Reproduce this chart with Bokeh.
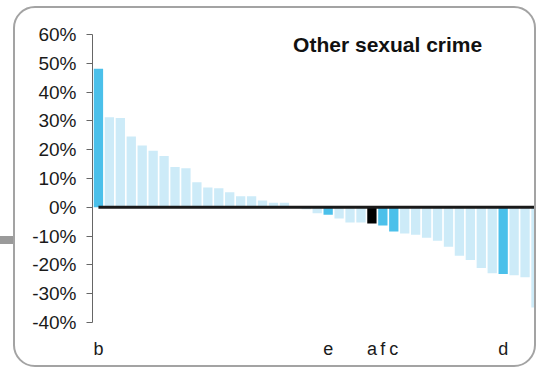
from bokeh.plotting import figure
from bokeh.models import ColumnDataSource, FixedTicker, NumeralTickFormatter, Label, InlineStyleSheet
from bokeh.embed import file_html
from bokeh.resources import INLINE

# ---- data (percent change per area, sorted) ----
values = [48.1, 31.3, 31.0, 24.6, 21.5, 19.6, 17.8, 14.0, 13.6, 8.7,
          6.9, 6.6, 5.2, 3.8, 3.8, 2.4, 1.6, 1.6, 0.2, -0.7,
          -2.1, -2.6, -3.9, -5.3, -5.3, -5.6, -6.3, -8.4, -9.1, -9.5,
          -10.6, -11.6, -13.7, -16.8, -18.3, -21.1, -22.9, -23.2, -23.6, -24.3,
          -34.8]
label_positions = [0, 21, 25, 26, 27, 37]
label_names = ["b", "e", "a", "f", "c", "d"]
label_colors = ["#4BC0EA", "#4BC0EA", "#000000", "#4BC0EA", "#4BC0EA", "#4BC0EA"]
y_ticks = [-0.4, -0.3, -0.2, -0.1, 0.0, 0.1, 0.2, 0.3, 0.4, 0.5, 0.6]
title_text = "Other sexual crime"

LIGHT = "#CDEBF8"
FONT = "Liberation Sans"

colors = [LIGHT] * len(values)
for i, c in zip(label_positions, label_colors):
    colors[i] = c

src = ColumnDataSource(dict(
    x=list(range(len(values))),
    top=[v / 100 for v in values],
    color=colors,
))

p = figure(width=519, height=357,
           x_range=(-0.544, 40.23), y_range=(-0.4, 0.6),
           output_backend="svg", toolbar_location=None,
           min_border_left=77, min_border_right=0,
           min_border_top=26, min_border_bottom=47)
p.background_fill_color = None
p.border_fill_color = None
p.outline_line_color = None
p.grid.visible = False

p.vbar(x="x", top="top", bottom=0, width=0.85, fill_color="color",
       line_color=None, source=src)

# zero baseline across the categories
p.line(x=[0, len(values) - 1], y=[0, 0], line_width=3, line_color="#1a1a1a")

# y axis
ya = p.yaxis[0]
ya.ticker = FixedTicker(ticks=y_ticks)
ya.formatter = NumeralTickFormatter(format="0%")
ya.axis_line_color = "#666666"
ya.major_tick_line_color = "#666666"
ya.major_tick_out = 6
ya.major_tick_in = 0
ya.minor_tick_line_color = None
ya.major_label_standoff = 10
ya.major_label_text_font = FONT
ya.major_label_text_font_size = "19px"
ya.major_label_text_color = "#1a1a1a"

# x axis with letter labels
xa = p.xaxis[0]
xa.ticker = FixedTicker(ticks=label_positions)
xa.major_label_overrides = {i: n for i, n in zip(label_positions, label_names)}
xa.axis_line_color = None
xa.major_tick_line_color = None
xa.minor_tick_line_color = None
xa.major_label_standoff = 10
xa.major_label_text_font = FONT
xa.major_label_text_font_size = "18px"
xa.major_label_text_color = "#1a1a1a"

p.add_layout(Label(x=26.44, y=0.565, text=title_text, text_font=FONT,
                   text_font_style="bold", text_font_size="21px",
                   text_align="center", text_baseline="alphabetic",
                   text_color="#111111"))

p.styles = {"box-sizing": "content-box", "margin-left": "13px", "margin-top": "6px",
            "border": "2px solid #a3a3a3", "border-radius": "22px",
            "position": "relative"}
p.stylesheets = [InlineStyleSheet(css=":host::before { content: ''; position: absolute; left: -15px; top: 228px; width: 13px; height: 8px; background: #9a9a9a; }")]

open("out.html", "w").write(file_html(p, INLINE))
